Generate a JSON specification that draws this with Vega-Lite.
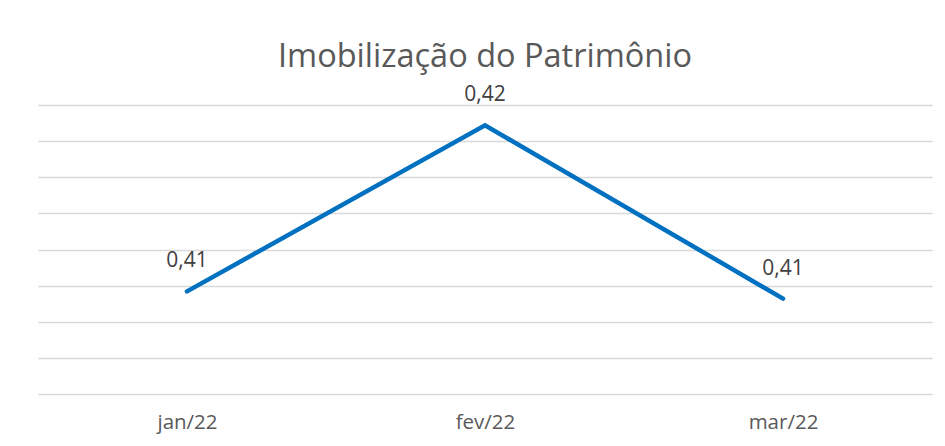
{
  "$schema": "https://vega.github.io/schema/vega-lite/v6.json",
  "width": 894,
  "height": 289,
  "autosize": {"type": "none"},
  "padding": {"left": 38, "top": 105, "right": 13, "bottom": 52},
  "background": "white",
  "config": {
    "view": {"stroke": null},
    "font": "Open Sans",
    "locale": {"number": {"decimal": ",", "thousands": ".", "grouping": [3], "currency": ["R$", ""]}}
  },
  "title": {
    "text": "Imobilização do Patrimônio",
    "font": "Open Sans",
    "fontSize": 32.5,
    "fontWeight": "normal",
    "color": "#595959",
    "anchor": "middle",
    "offset": 11
  },
  "data": {
    "values": [
      {"mes": "jan/22", "valor": 0.4071},
      {"mes": "fev/22", "valor": 0.4186},
      {"mes": "mar/22", "valor": 0.4066}
    ]
  },
  "encoding": {
    "x": {
      "field": "mes",
      "type": "ordinal",
      "sort": null,
      "scale": {"type": "point", "padding": 0.5},
      "axis": {
        "title": null,
        "domain": false,
        "ticks": false,
        "grid": false,
        "labelAngle": 0,
        "labelFont": "Open Sans",
        "labelFontSize": 20.5,
        "labelColor": "#595959",
        "labelPadding": 18
      }
    },
    "y": {
      "field": "valor",
      "type": "quantitative",
      "scale": {"domain": [0.40, 0.42], "zero": false, "nice": false},
      "axis": {
        "title": null,
        "labels": false,
        "ticks": false,
        "domain": false,
        "grid": true,
        "gridColor": "#d9d9d9",
        "gridWidth": 1.5,
        "values": [0.4, 0.4025, 0.405, 0.4075, 0.41, 0.4125, 0.415, 0.4175, 0.42]
      }
    }
  },
  "layer": [
    {
      "mark": {"type": "line", "color": "#0070C0", "strokeWidth": 4.5, "strokeCap": "round", "strokeJoin": "miter"}
    },
    {
      "mark": {"type": "text", "dy": -30, "baseline": "middle", "align": "center", "font": "Open Sans", "fontSize": 21, "color": "#404040"},
      "encoding": {
        "text": {"field": "valor", "type": "quantitative", "format": ".2f"}
      }
    }
  ]
}
